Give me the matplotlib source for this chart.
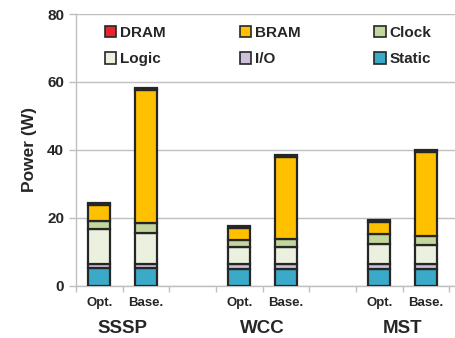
import matplotlib
matplotlib.use("Agg")
import matplotlib.pyplot as plt
from matplotlib.transforms import blended_transform_factory
from matplotlib.patches import Patch

plt.rcParams["font.family"] = ["Liberation Sans", "DejaVu Sans"]

groups = ["SSSP", "WCC", "MST"]
bar_labels = ["Opt.", "Base.", "Opt.", "Base.", "Opt.", "Base."]
components = ["Static", "I/O", "Logic", "Clock", "BRAM", "DRAM"]
static = [5.1, 5.1, 5.0, 5.0, 5.0, 5.0]
io = [1.2, 1.2, 1.2, 1.2, 1.2, 1.2]
logic = [10.3, 9.3, 5.2, 5.2, 6.1, 5.8]
clock = [2.5, 2.7, 2.1, 2.3, 2.9, 2.7]
bram = [4.6, 39.2, 3.5, 24.3, 3.5, 24.6]
dram = [0.5, 0.7, 0.6, 0.5, 0.5, 0.7]
colors = ["#3AAAC8", "#CCC0DA", "#EBF1DE", "#C3D69B", "#FFC000", "#E8262A"]

positions = [0, 1, 3, 4, 6, 7]
series = [static, io, logic, clock, bram, dram]

fig = plt.figure(figsize=(4.56, 3.38), dpi=100)
ax = fig.add_axes([76 / 456, 1 - 285.5 / 338, 1 - 76 / 456, (285.5 - 14) / 338])

bottoms = [0.0] * len(positions)
handles = {}
for name, vals, col in zip(components, series, colors):
    ax.bar(positions, vals, width=0.47, bottom=bottoms, color=col,
           edgecolor="#262626", linewidth=1.6, zorder=3)
    handles[name] = Patch(facecolor=col, edgecolor="#262626", linewidth=1.2)
    bottoms = [b + v for b, v in zip(bottoms, vals)]

ax.set_xlim(-0.5, 7.64)
ax.set_ylim(0, 80)
ax.set_yticks([0, 20, 40, 60, 80])
ax.yaxis.grid(True, color="#BFBFBF", linewidth=1.0, zorder=0)
ax.set_axisbelow(True)
for s in ["top", "right"]:
    ax.spines[s].set_visible(False)
for s in ["left", "bottom"]:
    ax.spines[s].set_color("#BFBFBF")
    ax.spines[s].set_linewidth(1.0)

ax.set_xticks(positions)
ax.set_xticklabels(bar_labels, fontsize=9.5, fontweight="bold", color="#262626")
ax.tick_params(axis="x", which="major", length=0, pad=8)
ax.set_xticks([b - 0.5 for b in range(9)], minor=True)
ax.tick_params(axis="x", which="minor", length=4, color="#BFBFBF", width=1)
ax.tick_params(axis="y", length=5, color="#BFBFBF", width=1, labelsize=11,
               labelcolor="#262626")
for t in ax.get_yticklabels():
    t.set_fontweight("bold")
ax.set_ylabel("Power (W)", fontsize=12.5, fontweight="bold", color="#262626", labelpad=7)

trans = blended_transform_factory(ax.transData, ax.transAxes)
for g, x in zip(groups, [0.5, 3.5, 6.5]):
    ax.text(x, -0.157, g, transform=trans, ha="center", va="center",
            fontsize=13.5, fontweight="bold", color="#262626")

order = ["DRAM", "Logic", "BRAM", "I/O", "Clock", "Static"]
leg = ax.legend([handles[o] for o in order], order, ncol=3, frameon=False,
                loc="upper left", bbox_to_anchor=(0.06, 0.978),
                prop={"weight": "bold", "size": 11},
                handlelength=0.75, handleheight=0.75, handletextpad=0.25,
                columnspacing=4.83, labelspacing=0.8, borderaxespad=0)
for t in leg.get_texts():
    t.set_color("#262626")

fig.savefig("out.png", dpi=100)
